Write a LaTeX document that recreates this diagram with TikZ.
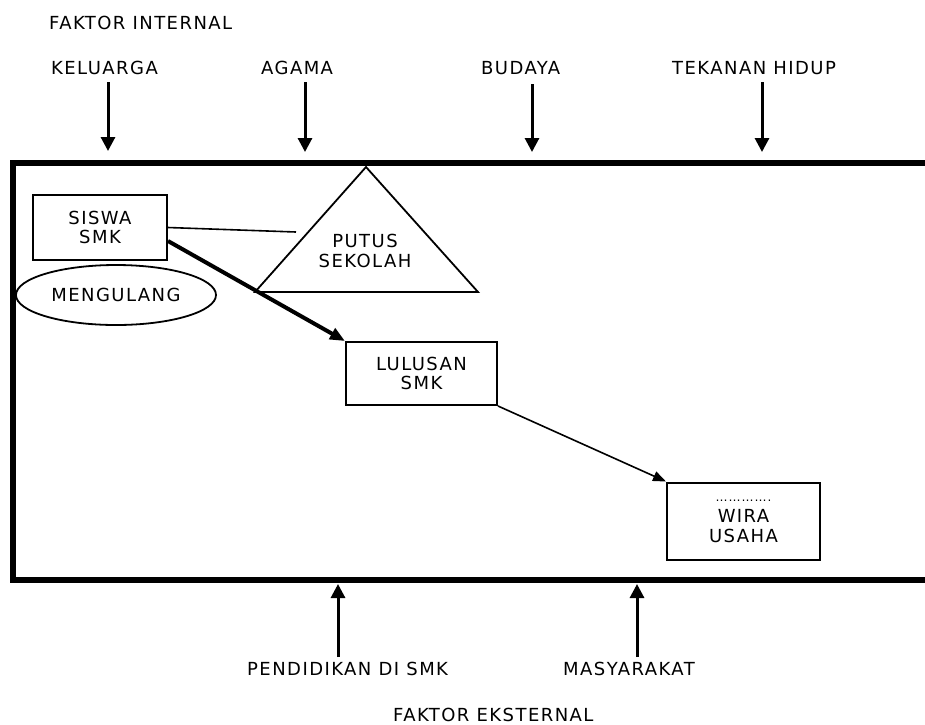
\documentclass[tikz,border=0pt]{standalone}
\usepackage{fontspec}
\usepackage{tikz}
\usetikzlibrary{arrows.meta,shapes.geometric}
\newfontfamily\diagfont{DejaVu Sans}[LetterSpace=8]
\tikzset{
	every node/.style={font=\diagfont\fontsize{18}{19.5}\selectfont, inner sep=0pt, align=center},
	faktorarrow/.style={line width=3pt, -{Triangle[length=14pt,width=14pt]}},
	smkbox/.style={draw, line width=2pt},
	flowline/.style={line width=1.6pt},
}

\begin{document}
\begin{tikzpicture}[x=1pt, y=-1pt]
			%%%%% START %%%%%
			\useasboundingbox (0, 0) rectangle (925, 724);
			
			\node[anchor=base west] (internal) at (49, 29) {FAKTOR INTERNAL};
			
			\node[anchor=base west] (keluarga) at (51, 74) {KELUARGA};
			\node[anchor=base west] (agama) at (261, 74) {AGAMA};
			\node[anchor=base west] (budaya) at (481, 74) {BUDAYA};
			\node[anchor=base west] (tekanan) at (672, 74) {TEKANAN HIDUP};
			
			\coordinate (keluarga-a) at (108, 82);
			\coordinate (keluarga-b) at (108, 151);
			\coordinate (agama-a) at (305, 82);
			\coordinate (agama-b) at (305, 152);
			\coordinate (budaya-a) at (532, 84);
			\coordinate (budaya-b) at (532, 152);
			\coordinate (tekanan-a) at (762, 82);
			\coordinate (tekanan-b) at (762, 152);
			
			\draw[faktorarrow] (keluarga-a) -- (keluarga-b);
			\draw[faktorarrow] (agama-a) -- (agama-b);
			\draw[faktorarrow] (budaya-a) -- (budaya-b);
			\draw[faktorarrow] (tekanan-a) -- (tekanan-b);
			
			% frame, open on the right
			\draw[line width=6pt] (925, 163) -- (12.5, 163) -- (12.5, 579.5) -- (925, 579.5);
			
			\node[smkbox, minimum width=134, minimum height=65] (siswa) at (100, 227.5) {SISWA\\SMK};
			\node[draw, ellipse, line width=1.8pt, minimum width=200, minimum height=60] (mengulang) at (116, 295) {MENGULANG};
			
			\coordinate (tri-top) at (366, 167);
			\coordinate (tri-left) at (255, 292);
			\coordinate (tri-right) at (478, 292);
			\draw[line width=1.8pt, line join=miter] (tri-top) -- (tri-left) -- (tri-right) -- cycle;
			\node (putus) at (365, 251) {PUTUS\\SEKOLAH};
			
			\node[smkbox, minimum width=151, minimum height=63] (lulusan) at (421.5, 373.5) {LULUSAN\\SMK};
			\node[smkbox, minimum width=153, minimum height=77] (wira) at (743.5, 521) {{\fontsize{12}{14}\selectfont ………….}\\[2pt]WIRA\\USAHA};
			
			\coordinate (putus-end) at (296, 232);
			\draw[flowline] (siswa.east) -- (putus-end);
			\draw[line width=4pt, -{Triangle[length=15pt,width=12pt]}] ([yshift=20pt]siswa.south east) -- (lulusan.north west);
			\draw[flowline, -{Triangle[length=13pt,width=10pt]}] (lulusan.south east) -- (wira.north west);
			
			\coordinate (pendidikan-a) at (338, 657);
			\coordinate (pendidikan-b) at (338, 584);
			\coordinate (masyarakat-a) at (637, 657);
			\coordinate (masyarakat-b) at (637, 584);
			
			\draw[faktorarrow] (pendidikan-a) -- (pendidikan-b);
			\draw[faktorarrow] (masyarakat-a) -- (masyarakat-b);
			
			\node[anchor=base west] (pendidikan) at (247, 675) {PENDIDIKAN DI SMK};
			\node[anchor=base west] (masyarakat) at (563, 675) {MASYARAKAT};
			
			\node[anchor=base west] (eksternal) at (393, 721) {FAKTOR EKSTERNAL};
			
			%%%%% END %%%%%
\end{tikzpicture}
\end{document}
